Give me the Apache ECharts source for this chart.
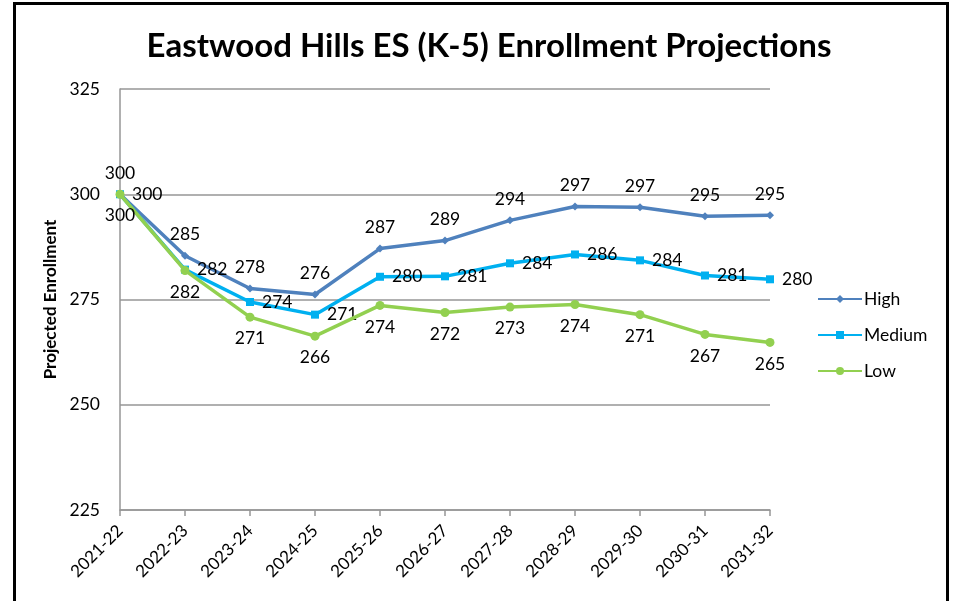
<!DOCTYPE html>
<html><head><meta charset="utf-8">
<script src="https://cdn.jsdelivr.net/npm/echarts@6/dist/echarts.min.js"></script>
<style>html,body{margin:0;padding:0;background:#fff}#frame{position:absolute;left:13px;top:2px;width:936px;height:620px;border:3px solid #000;box-sizing:border-box}#c{position:absolute;left:0;top:0;width:955px;height:601px}</style>
</head><body><div id="frame"></div><div id="c"></div>
<script>
const categories = ['2021-22','2022-23','2023-24','2024-25','2025-26','2026-27','2027-28','2028-29','2029-30','2030-31','2031-32'];
const high = [300, 285.4, 277.6, 276.2, 287.1, 289.0, 293.8, 297.1, 296.9, 294.8, 295.0];
const medium = [300, 282.1, 274.4, 271.4, 280.4, 280.5, 283.6, 285.7, 284.3, 280.7, 279.8];
const low = [300, 281.9, 270.8, 266.3, 273.6, 271.9, 273.2, 273.8, 271.4, 266.7, 264.8];
const yTicks = {min: 225, max: 325, interval: 25};
const FONT = 'Lato, "Open Sans", sans-serif';
const chart = echarts.init(document.getElementById('c'), null, {renderer: 'canvas'});
const lbl = (pos) => ({show: true, position: pos, distance: 8, color: '#000', fontFamily: FONT, fontSize: 17.5, formatter: p => Math.round(p.value)});
chart.setOption({
  animation: false,
  title: {text: 'Eastwood Hills ES (K-5) Enrollment Projections', left: 484, top: 25, textAlign: 'center',
    textStyle: {fontFamily: FONT, fontSize: 33, fontWeight: 'bold', color: '#000'}},
  grid: {left: 120, right: 185, top: 89, bottom: 91},
  legend: {orient: 'vertical', left: 812, top: 285, itemGap: 18, itemWidth: 44, itemHeight: 10,
    textStyle: {fontFamily: FONT, fontSize: 17.5, color: '#000', padding: [0,0,0,-3]},
    data: ['High', 'Medium', 'Low']},
  xAxis: {type: 'category', data: categories, boundaryGap: false,
    axisLine: {lineStyle: {color: '#969696', width: 1.5}},
    axisTick: {show: true, length: 6, lineStyle: {color: '#969696', width: 1.5}},
    axisLabel: {rotate: 45, fontFamily: FONT, fontSize: 17, color: '#000', margin: 18}},
  yAxis: {type: 'value', min: yTicks.min, max: yTicks.max, interval: yTicks.interval,
    name: 'Projected Enrollment', nameLocation: 'middle', nameGap: 53, nameRotate: 90,
    nameTextStyle: {fontFamily: FONT, fontSize: 17, fontWeight: 'bold', color: '#000'},
    axisLine: {show: true, lineStyle: {color: '#969696', width: 1.5}},
    axisTick: {show: false},
    splitLine: {lineStyle: {color: '#969696', width: 1.5}},
    axisLabel: {fontFamily: FONT, fontSize: 17.5, color: '#000', margin: 20}},
  series: [
    {name: 'High', type: 'line', data: high, symbol: 'diamond', symbolSize: 8,
      lineStyle: {width: 3.5, color: '#4F81BD'}, itemStyle: {color: '#4F81BD'}, label: lbl('top'), z: 3},
    {name: 'Medium', type: 'line', data: medium, symbol: 'rect', symbolSize: 8,
      lineStyle: {width: 3.5, color: '#00B0F0'}, itemStyle: {color: '#00B0F0'}, label: lbl('right'), z: 4},
    {name: 'Low', type: 'line', data: low, symbol: 'circle', symbolSize: 9,
      lineStyle: {width: 3.5, color: '#92D050'}, itemStyle: {color: '#92D050'}, label: lbl('bottom'), z: 5}
  ]
});
</script></body></html>
